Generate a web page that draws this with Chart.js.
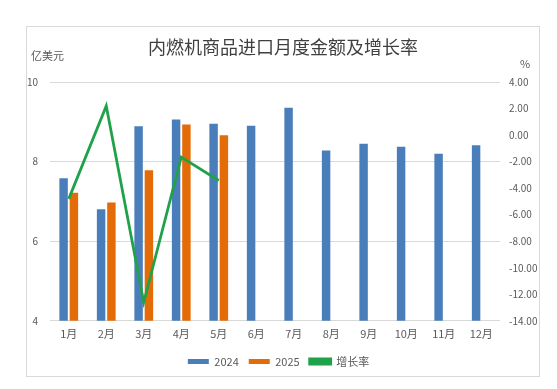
<!DOCTYPE html>
<html>
<head>
<meta charset="utf-8">
<script src="https://cdn.jsdelivr.net/npm/chart.js@4"></script>
<style>
  body { margin: 0; background: #fff; }
  #wrap { position: relative; width: 557px; height: 389px; }
</style>
</head>
<body>
<div id="wrap"><canvas id="c" width="557" height="389"></canvas></div>
<script>
const months = ['1月','2月','3月','4月','5月','6月','7月','8月','9月','10月','11月','12月'];
const val2024 = [7.58, 6.80, 8.89, 9.06, 8.95, 8.90, 9.35, 8.28, 8.45, 8.37, 8.20, 8.41];
const val2025 = [7.22, 6.97, 7.78, 8.93, 8.66, null, null, null, null, null, null, null];
const growth = [-4.81, 2.19, -12.6, -1.66, -3.42, null, null, null, null, null, null, null];

const chartTitle = '内燃机商品进口月度金额及增长率';
const leftUnit = '亿美元';
const rightUnit = '%';

const txtColor = '#595959';
const fontFam = '"Noto Sans CJK SC", "Microsoft YaHei", sans-serif';

// frame, title and unit labels
const decor = {
  id: 'decor',
  beforeDraw(chart) {
    const ctx = chart.ctx;
    ctx.save();
    ctx.strokeStyle = '#d9d9d9';
    ctx.lineWidth = 1;
    ctx.strokeRect(26.5, 26.5, 513, 350);
    ctx.fillStyle = '#404040';
    ctx.textBaseline = 'middle';
    ctx.textAlign = 'center';
    ctx.font = '18px ' + fontFam;
    ctx.fillText(chartTitle, 283, 47);
    ctx.fillStyle = txtColor;
    ctx.textAlign = 'left';
    ctx.font = '11px ' + fontFam;
    ctx.fillText(leftUnit, 31, 56);
    ctx.fillText(rightUnit, 520, 64);
    ctx.restore();
  }
};

new Chart(document.getElementById('c'), {
  type: 'bar',
  data: {
    labels: months,
    datasets: [
      {
        label: '2024', data: val2024, yAxisID: 'y',
        backgroundColor: '#4A7EBB', order: 2,
        categoryPercentage: 0.55, barPercentage: 0.82
      },
      {
        label: '2025', data: val2025, yAxisID: 'y',
        backgroundColor: '#E36C09', order: 2,
        categoryPercentage: 0.55, barPercentage: 0.82
      },
      {
        type: 'line', label: '增长率', data: growth, yAxisID: 'y1',
        borderColor: '#1FA24A', backgroundColor: '#1FA24A',
        borderWidth: 2.8, pointRadius: 0, tension: 0, order: 1
      }
    ]
  },
  options: {
    responsive: false,
    animation: false,
    layout: { padding: { top: 82, left: 0, right: 0, bottom: 12 } },
    plugins: {
      legend: {
        position: 'bottom',
        labels: {
          boxWidth: 21, boxHeight: 5, padding: 10,
          color: txtColor, font: { size: 11, family: fontFam },
          sort: (a, b) => a.datasetIndex - b.datasetIndex
        }
      },
      title: { display: false },
      tooltip: { enabled: false }
    },
    scales: {
      x: {
        grid: { display: false, drawTicks: false },
        border: { display: false },
        ticks: { color: txtColor, padding: 6, font: { size: 11, family: fontFam } }
      },
      y: {
        position: 'left',
        min: 4, max: 10,
        afterFit(scale) { scale.width = 50; },
        ticks: { stepSize: 2, color: txtColor, padding: 12, font: { size: 10, family: fontFam } },
        grid: { color: '#d9d9d9', drawTicks: false },
        border: { display: false }
      },
      y1: {
        position: 'right',
        min: -14, max: 4,
        afterFit(scale) { scale.width = 57; },
        ticks: {
          stepSize: 2, color: txtColor, padding: 9,
          font: { size: 10, family: fontFam },
          callback: v => v.toFixed(2)
        },
        grid: { display: false, drawTicks: false },
        border: { display: false }
      }
    }
  },
  plugins: [decor]
});
</script>
</body>
</html>
